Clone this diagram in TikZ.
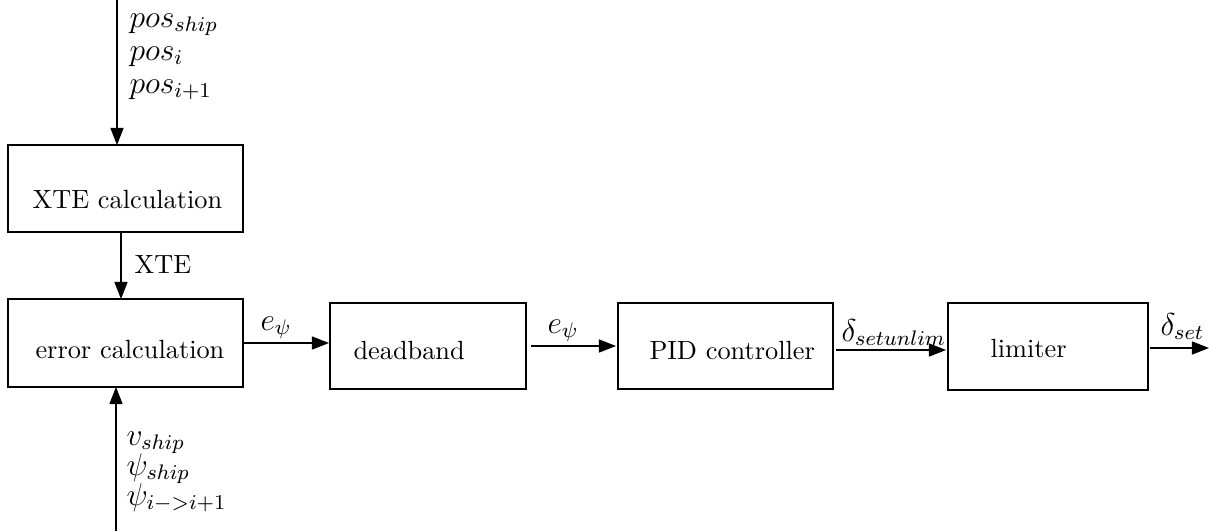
\documentclass[tikz,border=0pt]{standalone}
\usepackage{amsmath}
\usetikzlibrary{arrows.meta}
\newcommand{\un}{0.38pt}

\begin{document}
\begin{tikzpicture}[x=\un, y=-\un,
  blk/.style={draw, line width=0.4pt, inner sep=0pt, outer sep=0pt},
  sig/.style={-{Triangle[length=6.5pt,width=5pt]}, line width=0.4pt},
  txt/.style={anchor=base west, inner sep=0pt},
  lbl/.style={anchor=base west, inner sep=0pt, font=\large}]
  \useasboundingbox (0,0) rectangle (1209,531);

  % the blocks
  \node[blk, minimum width={235*\un}, minimum height={87*\un}] (xte) at (125.5,188.5) {};
  \node[blk, minimum width={235*\un}, minimum height={88*\un}] (err) at (125.5,343) {};
  \node[blk, minimum width={196*\un}, minimum height={86*\un}] (dead) at (428,346) {};
  \node[blk, minimum width={215*\un}, minimum height={86*\un}] (pid) at (725.5,346) {};
  \node[blk, minimum width={200*\un}, minimum height={87*\un}] (lim) at (1048,346.5) {};

  % block texts
  \node[txt] (xtetxt) at (32,208) {XTE calculation};
  \node[txt] (errtxt) at (35,358) {error calculation};
  \node[txt] (deadtxt) at (353,359) {deadband};
  \node[txt] (pidtxt) at (649,359) {PID controller};
  \node[txt] (limtxt) at (990,357) {limiter};

  % free ends
  \coordinate (top) at (117,0);
  \coordinate (xa) at (121,0);
  \coordinate (bot) at (116,531);
  \coordinate (out) at (1209,348);

  % signals
  \draw[sig] (top) -- (top |- xte.north);
  \draw[sig] (xa |- xte.south) -- (xa |- err.north);
  \draw[sig] (bot) -- (bot |- err.south);
  \draw[sig, shorten >=1*\un] (err.east) -- (err.east -| dead.west);
  \draw[sig, shorten <=5*\un, shorten >=2*\un] (dead.east) -- (dead.east -| pid.west);
  \draw[sig, shorten <=3*\un, shorten >=2*\un] ([yshift={-4*\un}]pid.east) -- ([yshift={-4*\un}]pid.east -| lim.west);
  \draw[sig, shorten <=2*\un] (lim.east |- out) -- (out);

  % signal labels
  \node[lbl] (pship) at (129,27) {$pos_{ship}$};
  \node[lbl] (pi) at (129,60) {$pos_i$};
  \node[lbl] (pii) at (129,93) {$pos_{i+1}$};
  \node[txt] (xtelbl) at (134,273) {XTE};
  \node[lbl] (vship) at (126,445) {$v_{ship}$};
  \node[lbl] (psiship) at (126,475) {$\psi_{ship}$};
  \node[lbl] (psii) at (126,505) {$\psi_{i->i+1}$};
  \node[lbl] (epsa) at (260,330) {$e_\psi$};
  \node[lbl] (epsb) at (547,333) {$e_\psi$};
  \node[lbl] (dunlim) at (841,341) {$\delta_{setunlim}$};
  \node[lbl] (dset) at (1160,335) {$\delta_{set}$};
\end{tikzpicture}
\end{document}
